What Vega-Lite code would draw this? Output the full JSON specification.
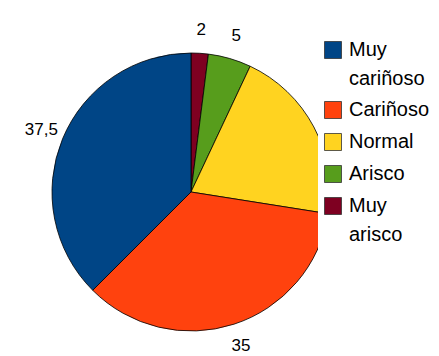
{
  "$schema": "https://vega.github.io/schema/vega-lite/v6.json",
  "width": 382,
  "height": 328,
  "autosize": {"type": "none"},
  "padding": {"left": 0, "top": 28, "right": 57, "bottom": 0},
  "background": "white",
  "config": {
    "view": {"stroke": null},
    "locale": {
      "number": {"decimal": ",", "thousands": ".", "grouping": [3], "currency": ["", " €"]}
    },
    "style": {"guide-label": {"lineHeight": 29}}
  },
  "data": {
    "values": [
      {"categoria": "Muy arisco", "valor": 2, "orden": 1},
      {"categoria": "Arisco", "valor": 5, "orden": 2},
      {"categoria": "Normal", "valor": 20.5, "orden": 3},
      {"categoria": "Cariñoso", "valor": 35, "orden": 4},
      {"categoria": "Muy cariñoso", "valor": 37.5, "orden": 5}
    ]
  },
  "encoding": {
    "theta": {"field": "valor", "type": "quantitative", "stack": true},
    "order": {"field": "orden", "type": "quantitative"}
  },
  "layer": [
    {
      "mark": {"type": "arc", "outerRadius": 139, "stroke": "#000000", "strokeWidth": 0.8},
      "encoding": {
        "color": {
          "field": "categoria",
          "type": "nominal",
          "scale": {
            "domain": ["Muy cariñoso", "Cariñoso", "Normal", "Arisco", "Muy arisco"],
            "range": ["#004586", "#ff420e", "#ffd320", "#579d1c", "#7e0021"]
          },
          "legend": {
            "title": null,
            "orient": "none",
            "legendX": 318,
            "legendY": 7,
            "padding": 5,
            "fillColor": "white",
            "symbolType": "square",
            "symbolSize": 289,
            "symbolStrokeColor": "#333333",
            "symbolStrokeWidth": 0.8,
            "labelFont": "Liberation Sans",
            "labelFontSize": 20,
            "labelColor": "#000000",
            "labelOffset": 6,
            "labelLimit": 200,
            "rowPadding": 10,
            "labelExpr": "split(datum.label, ' ')"
          }
        }
      }
    },
    {
      "mark": {"type": "text", "radius": 162, "font": "Liberation Sans", "fontSize": 17},
      "encoding": {
        "detail": {"field": "categoria", "type": "nominal"},
        "color": {"value": "#000000"},
        "text": {"field": "valor", "type": "quantitative", "format": "~g"}
      }
    }
  ]
}
